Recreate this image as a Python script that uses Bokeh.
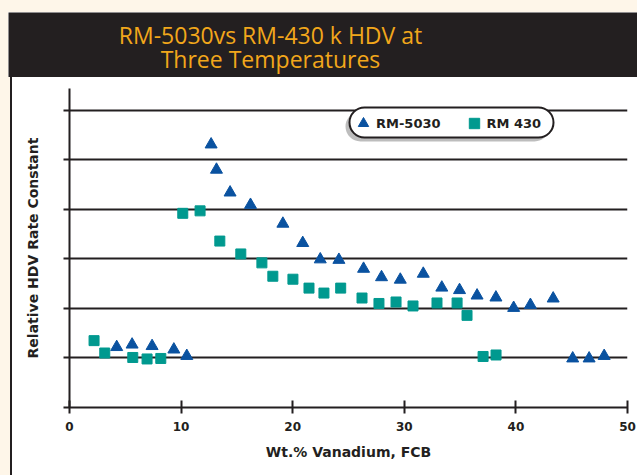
from bokeh.plotting import figure
from bokeh.models import (Range1d, FixedTicker, Label, Legend, LegendItem,
                          BoxAnnotation, CustomJSTickFormatter, Spacer)
from bokeh.layouts import column, row
from bokeh.embed import file_html
from bokeh.resources import INLINE

# ---------------- data ----------------
title_lines = ["RM-5030vs RM-430 k HDV at", "Three Temperatures"]
x_label = "Wt.% Vanadium, FCB"
y_label = "Relative HDV Rate Constant"
x_ticks = [0, 10, 20, 30, 40, 50]
y_ticks = [0, 1, 2, 3, 4, 5, 6]
series_names = ["RM-5030", "RM 430"]

rm5030_x = [4.23, 5.61, 7.40, 9.35, 10.51, 12.69, 13.17, 14.39, 16.22, 19.12,
            20.90, 22.47, 24.14, 26.35, 27.96, 29.64, 31.70, 33.36, 34.95, 36.52,
            38.21, 39.80, 41.30, 43.34, 45.09, 46.56, 47.91]
rm5030_y = [1.22, 1.27, 1.24, 1.17, 1.04, 5.31, 4.80, 4.34, 4.09, 3.71,
            3.32, 2.99, 2.98, 2.80, 2.63, 2.58, 2.70, 2.42, 2.37, 2.26,
            2.22, 2.01, 2.07, 2.20, 0.99, 0.99, 1.04]

rm430_x = [2.20, 3.16, 5.67, 6.95, 8.18, 10.15, 11.70, 13.47, 15.35, 17.24,
           18.22, 20.02, 21.46, 22.80, 24.30, 26.21, 27.73, 29.26, 30.78, 32.93,
           34.73, 35.62, 37.06, 38.22]
rm430_y = [1.35, 1.10, 1.01, 0.98, 0.99, 3.92, 3.97, 3.36, 3.10, 2.92,
           2.65, 2.59, 2.41, 2.31, 2.41, 2.21, 2.10, 2.13, 2.05, 2.11,
           2.11, 1.86, 1.03, 1.06]

# ---------------- style ----------------
CREAM = "#FEF6E9"
DARK = "#231F20"
ORANGE = "#F2A71B"
BLUE = "#0A52A0"
TEAL = "#00998F"
FONT = "DejaVu Sans"
W, H = 637, 475
FL, FR, FT, FB = 69, 627, 88, 407      # frame edges on the page (px)
Y_TOP = 6.44


def block(w, h, color):
    return Spacer(width=w, height=h, margin=0,
                  styles={"background-color": color})


# ---------------- title band ----------------
tband = figure(width=W - 8, height=65, output_backend="svg",
               toolbar_location=None, title_location=None,
               x_axis_location=None, y_axis_location=None,
               x_range=Range1d(0, W - 8), y_range=Range1d(0, 65),
               min_border_left=0, min_border_right=0, min_border_top=0,
               min_border_bottom=0)
tband.background_fill_color = DARK
tband.border_fill_color = DARK
tband.outline_line_color = None
tband.grid.visible = False
for txt, py in zip(title_lines, [34.5, 58.5]):
    tband.add_layout(Label(x=270 - 8, y=77 - py, text=txt, text_align="center",
                           text_baseline="middle", text_color=ORANGE,
                           text_font="Open Sans", text_font_size="23px"))

# ---------------- main plot ----------------
p = figure(width=W - 12, height=H - 77, output_backend="svg",
           toolbar_location=None, title_location=None,
           x_range=Range1d(0, 50), y_range=Range1d(0, Y_TOP),
           min_border_left=FL - 12, min_border_right=W - FR,
           min_border_top=FT - 77, min_border_bottom=H - FB)
p.background_fill_color = "white"
p.border_fill_color = "white"
p.outline_line_color = None


def dx(px):
    return (px - FL) * 50.0 / (FR - FL)


def dy(py):
    return (FB - py) * Y_TOP / (FB - FT)


p.xgrid.visible = False
p.ygrid.ticker = FixedTicker(ticks=y_ticks[1:])
p.ygrid.grid_line_color = DARK
p.ygrid.grid_line_width = 2

xa = p.xaxis[0]
xa.ticker = FixedTicker(ticks=x_ticks)
xa.axis_line_color = DARK
xa.axis_line_width = 2
xa.major_tick_line_color = DARK
xa.major_tick_line_width = 2
xa.major_tick_in = 7
xa.major_tick_out = 6
xa.minor_tick_line_color = None
xa.major_label_standoff = 8
xa.major_label_text_font = FONT
xa.major_label_text_font_style = "bold"
xa.major_label_text_font_size = "12px"
xa.major_label_text_color = DARK
xa.axis_label = x_label
xa.axis_label_text_font = FONT
xa.axis_label_text_font_style = "bold"
xa.axis_label_text_font_size = "14px"
xa.axis_label_text_color = DARK
xa.axis_label_standoff = 10

ya = p.yaxis[0]
ya.ticker = FixedTicker(ticks=y_ticks)
ya.formatter = CustomJSTickFormatter(code="return ''")
ya.axis_line_color = DARK
ya.axis_line_width = 2
ya.major_tick_line_color = DARK
ya.major_tick_line_width = 2
ya.major_tick_in = 0
ya.major_tick_out = 6
ya.minor_tick_line_color = None
ya.major_label_standoff = 0
ya.axis_label = y_label
ya.axis_label_text_font = FONT
ya.axis_label_text_font_style = "bold"
ya.axis_label_text_font_size = "14px"
ya.axis_label_text_color = DARK
ya.axis_label_standoff = 23

sq = p.scatter(rm430_x, rm430_y, marker="square", size=10,
               fill_color=TEAL, line_color=TEAL)
tri = p.scatter(rm5030_x, rm5030_y, marker="triangle", size=12,
                fill_color=BLUE, line_color=BLUE)

# legend frame (rounded, with shadow)
p.add_layout(BoxAnnotation(left=dx(345), right=dx(549), bottom=dy(141), top=dy(111),
                           fill_color="#BDBDBD", fill_alpha=1, line_color=None,
                           border_radius=15))
p.add_layout(BoxAnnotation(left=dx(349), right=dx(553), bottom=dy(137), top=dy(107),
                           fill_color="white", fill_alpha=1, line_color=DARK,
                           line_alpha=1, line_width=2, border_radius=15))

legend = Legend(items=[LegendItem(label=series_names[0], renderers=[tri]),
                       LegendItem(label=series_names[1], renderers=[sq])],
                orientation="horizontal", location=(281, 271),
                padding=0, margin=0, spacing=20,
                glyph_width=26, glyph_height=26, label_standoff=0,
                label_text_font=FONT, label_text_font_style="bold",
                label_text_font_size="13px", label_text_color=DARK,
                background_fill_alpha=0, border_line_color=None)
p.add_layout(legend)

layout = column(block(W, 12, CREAM),
                row(block(8, 65, CREAM), tband),
                row(block(10, H - 77, CREAM), block(2, H - 77, DARK), p))

open("out.html", "w").write(file_html(layout, INLINE))
